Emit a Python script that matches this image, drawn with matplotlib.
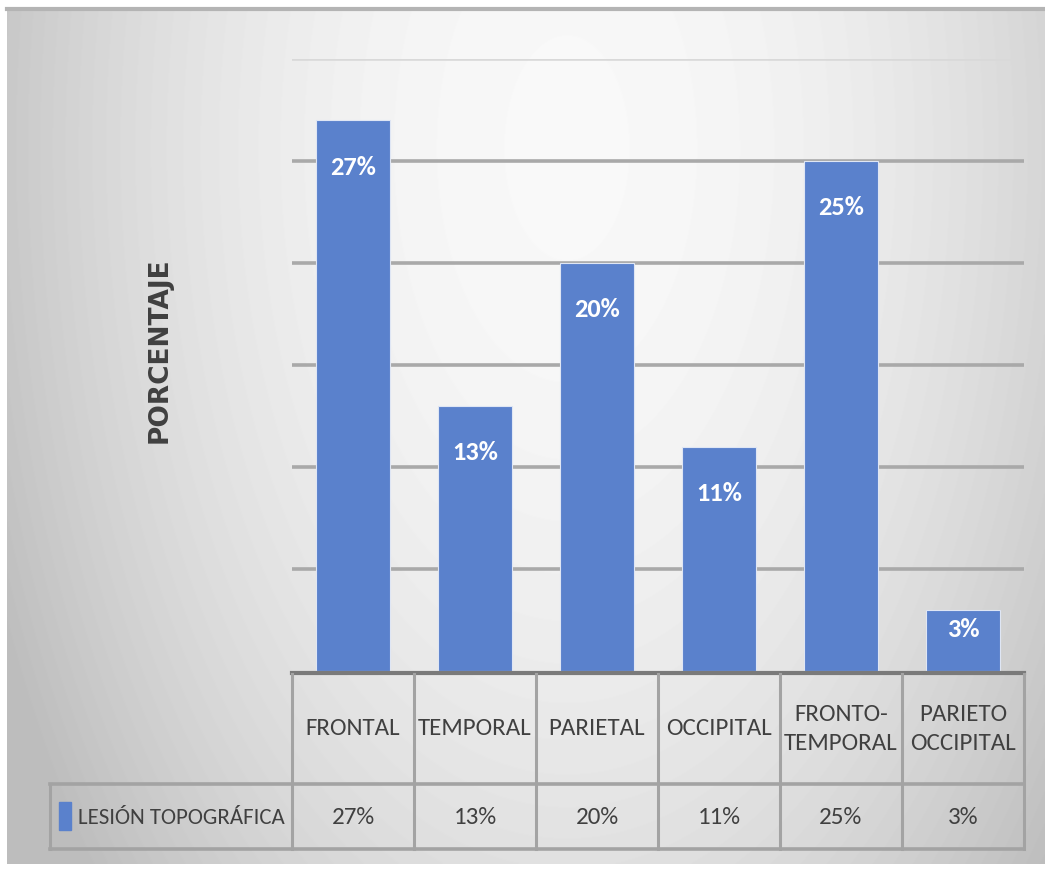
import numpy as np
import matplotlib.pyplot as plt
from matplotlib.patches import Rectangle

# data
categorias = ['FRONTAL', 'TEMPORAL', 'PARIETAL', 'OCCIPITAL', 'FRONTO-\nTEMPORAL', 'PARIETO\nOCCIPITAL']
porcentajes = [27, 13, 20, 11, 25, 3]
serie = 'LESIÓN TOPOGRÁFICA'
eje_y = 'PORCENTAJE'

azul = '#5a81cc'
gris_txt = '#404040'
narrow = ['Carlito', 'Roboto Condensed', 'Open Sans Condensed', 'DejaVu Sans']

W, H = 1045, 870
fig = plt.figure(figsize=(W / 100, H / 100), dpi=100)
fig.patch.set_facecolor('white')

# background gradient (chart area)
bg = fig.add_axes([7 / W, 5 / H, (W - 7) / W, (861 - 5) / H])
yy, xx = np.mgrid[0:856, 0:1038]
r2 = ((xx - 560) / 500.0) ** 2 + ((yy - 140) / 900.0) ** 2
val = np.clip(0.975 - 0.15 * r2, 0.74, 1)
bg.imshow(val, cmap='gray', vmin=0, vmax=1, aspect='auto', extent=[0, 1, 0, 1])
bg.axis('off')
fig.add_artist(plt.Line2D([7 / W, 1], [1 - 10 / H, 1 - 10 / H], color='#b4b4b4', lw=3))

# main plot
ax = fig.add_axes([292 / W, (H - 672) / H, 732 / W, 612 / H])
ax.patch.set_alpha(0)
x = np.arange(len(categorias))
bars = ax.bar(x, porcentajes, width=0.6, color=azul, edgecolor='#dfe6f4', linewidth=0.8, zorder=3)
ax.set_xlim(-0.5, len(categorias) - 0.5)
ax.set_ylim(0, 30)
for g in [5, 10, 15, 20, 25]:
    ax.axhline(g, color='#a9a9a9', lw=2.6, zorder=1)
ax.axhline(30, color='#d9d9d9', lw=2.6, zorder=1)
for s in ax.spines.values():
    s.set_visible(False)
ax.set_xticks([])
ax.set_yticks([])

for xi, v in zip(x, porcentajes):
    yl = max(v - 2.25, v * 0.7)
    ax.text(xi, yl, f'{v}%', ha='center', va='center', color='white', fontsize=19,
            fontweight='bold', family=narrow, zorder=4)

fig.text(160 / W, 1 - 350 / H, eje_y, rotation=90, ha='center', va='center',
         fontsize=19, fontweight='bold', color=gris_txt, family=['DejaVu Sans'])

# data table
at = fig.add_axes([292 / W, (H - 850) / H, 732 / W, 178 / H])
at.patch.set_alpha(0)
at.set_xlim(-0.5, len(categorias) - 0.5)
at.set_ylim(178, 0)
at.axis('off')
izq = -0.5 - 242 / 122.0
lc = '#a3a3a3'
at.plot([-0.5, len(categorias) - 0.5], [1.5, 1.5], color='#7a7a7a', lw=3, clip_on=False)
for b in np.arange(len(categorias) + 1) - 0.5:
    at.plot([b, b], [3, 178], color=lc, lw=2.2, clip_on=False)
at.plot([izq, len(categorias) - 0.5], [113, 113], color=lc, lw=2.6, clip_on=False)
at.plot([izq, len(categorias) - 0.5], [178, 178], color=lc, lw=2.6, clip_on=False)
at.plot([izq, izq], [113, 178], color=lc, lw=2.2, clip_on=False)

for xi, c, v in zip(x, categorias, porcentajes):
    at.text(xi, 57, c, ha='center', va='center', fontsize=18, color=gris_txt,
            family=narrow, linespacing=1.45)
    at.text(xi, 146, f'{v}%', ha='center', va='center', fontsize=18, color=gris_txt,
            family=narrow)

at.add_patch(Rectangle((izq + 9 / 122, 131), 12 / 122, 28, color=azul, clip_on=False))
at.text(izq + 28 / 122, 146, serie, ha='left', va='center', fontsize=16.5, color=gris_txt,
        family=narrow)

fig.savefig('out.png', dpi=100)
